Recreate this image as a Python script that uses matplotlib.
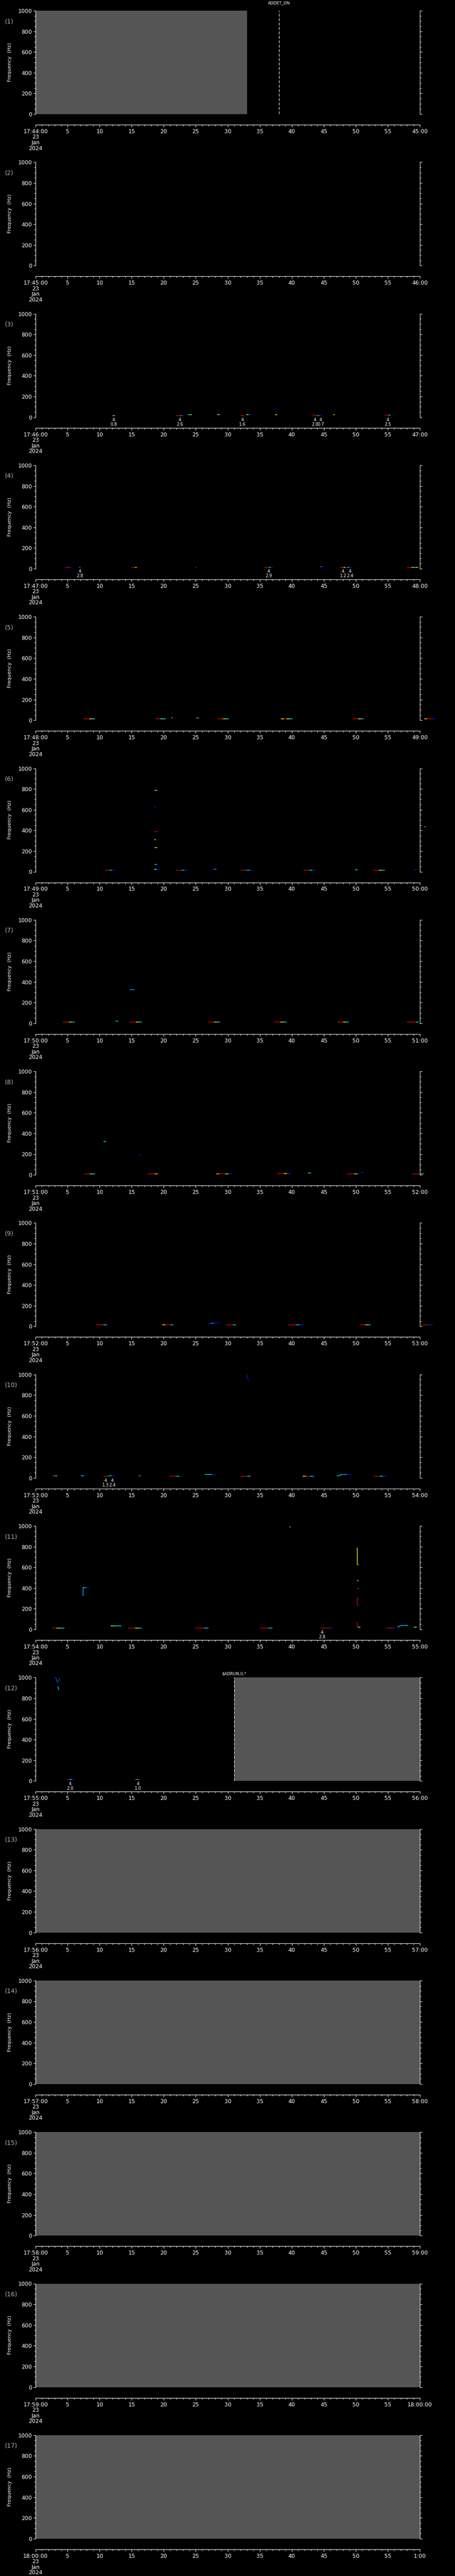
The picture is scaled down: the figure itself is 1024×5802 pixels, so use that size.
import numpy as np
import matplotlib
matplotlib.use('Agg')
import matplotlib.pyplot as plt
from matplotlib.collections import LineCollection

W, H = 1024, 5802
PITCH = 341.3

start_labels = ['17:44:00', '17:45:00', '17:46:00', '17:47:00', '17:48:00', '17:49:00',
                '17:50:00', '17:51:00', '17:52:00', '17:53:00', '17:54:00', '17:55:00',
                '17:56:00', '17:57:00', '17:58:00', '17:59:00', '18:00:00']
end_labels = ['45:00', '46:00', '47:00', '48:00', '49:00', '50:00', '51:00', '52:00',
              '53:00', '54:00', '55:00', '56:00', '57:00', '58:00', '59:00', '18:00:00', '1:00']
date_lines = ['23', 'Jan', '2024']

# grey (no data) spans per panel, in seconds
gray_spans = {1: (0, 33), 12: (31, 60), 13: (0, 60), 14: (0, 60), 15: (0, 60),
              16: (0, 60), 17: (0, 60)}
# event markers: panel -> (seconds, label)
event_marks = {1: (38, 'ADDET_ON'), 12: (31, '$ADRUN,0,*')}

# horizontal traces: (t start, t end, freq Hz, colour values along the trace)
segments = {
    3: [(11.9, 12.5, 16, [0.15, 0.65, 0.65, 0.15]), (21.9, 23.1, 16, [0.92, 0.92, 0.92, 0.3, 0.1]),
        (23.8, 24.4, 24, [0.35, 0.5]), (28.4, 28.6, 63, [0.15]), (28.4, 29.0, 24, [0.65, 0.15]),
        (32.0, 32.6, 16, [0.92]), (32.9, 33.6, 22, [0.65, 0.3, 0.15]), (37.4, 37.7, 24, [0.65]),
        (43.2, 43.9, 18, [0.92, 0.92]), (43.9, 44.7, 16, [0.3, 0.15]), (46.5, 46.8, 24, [0.65, 0.15]),
        (54.5, 55.4, 18, [0.92, 0.92, 0.3])],
    4: [(4.6, 5.6, 12, [0.92, 0.92, 0.15]), (6.7, 7.0, 11, [0.15, 0.3]), (15.0, 15.8, 14, [0.92, 0.92, 0.65]),
        (25.0, 25.2, 11, [0.92]), (35.7, 37.1, 14, [0.92, 0.92, 0.3, 0.1]), (44.3, 44.9, 20, [0.15, 0.35, 0.1]),
        (47.5, 49.3, 11, [0.92, 0.92, 0.65, 0.1, 0.35, 0.15]), (58.0, 59.7, 11, [0.92, 0.92, 0.65, 0.35, 0.65])],
    5: [(7.5, 9.3, 13, [0.92, 0.92, 0.65, 0.35]), (18.7, 20.3, 13, [0.92, 0.92, 0.5, 0.35]),
        (21.2, 21.5, 24, [0.65, 0.15]), (24.9, 25.5, 24, [0.92, 0.35]), (28.4, 30.2, 13, [0.92, 0.92, 0.65, 0.35]),
        (38.3, 40.1, 13, [0.65, 0.92, 0.65, 0.35]), (49.5, 51.2, 13, [0.92, 0.92, 0.65, 0.35]),
        (60.7, 62.4, 13, [0.65, 0.92, 0.92, 0.15])],
    6: [(10.9, 12.3, 13, [0.92, 0.92, 0.35, 0.15]), (18.5, 19.0, 789, [0.35, 0.65]), (18.5, 18.9, 630, [0.15, 0.1]),
        (18.5, 19.0, 389, [0.92]), (18.5, 18.9, 312, [0.65, 0.92]), (18.6, 19.0, 232, [0.65]),
        (18.6, 19.0, 69, [0.35]), (18.5, 19.5, 22, [0.65, 0.15, 0.1]), (21.9, 23.7, 13, [0.92, 0.92, 0.35, 0.15]),
        (27.5, 28.2, 22, [0.15, 0.3]), (32.0, 33.9, 13, [0.92, 0.92, 0.35, 0.15]),
        (41.8, 43.7, 13, [0.92, 0.92, 0.35, 0.15]), (49.9, 50.3, 20, [0.35]),
        (52.7, 54.5, 13, [0.92, 0.92, 0.65, 0.35]), (59.1, 59.5, 20, [0.15]), (60.7, 60.9, 434, [0.35])],
    7: [(4.3, 6.1, 13, [0.92, 0.92, 0.65, 0.35]), (12.5, 12.9, 19, [0.35]), (14.7, 15.5, 325, [0.3]),
        (14.7, 16.6, 13, [0.92, 0.92, 0.65, 0.35]), (26.9, 28.8, 13, [0.92, 0.92, 0.65, 0.35]),
        (37.3, 39.2, 13, [0.92, 0.92, 0.65, 0.35]), (47.1, 48.9, 13, [0.92, 0.92, 0.65, 0.35]),
        (58.0, 59.8, 13, [0.92, 0.92, 0.92, 0.35])],
    8: [(7.6, 9.3, 11, [0.92, 0.92, 0.65, 0.35]), (10.6, 11.0, 323, [0.35]), (16.2, 16.5, 188, [0.15]),
        (17.5, 19.1, 11, [0.92, 0.92, 0.65]), (28.2, 30.6, 11, [0.65, 0.92, 0.92, 0.65, 0.15]),
        (37.7, 39.8, 13, [0.92, 0.92, 0.65, 0.15]), (42.5, 43.0, 19, [0.35]),
        (48.6, 50.3, 11, [0.92, 0.92, 0.65]), (50.8, 51.2, 20, [0.15]), (58.8, 60.6, 11, [0.92, 0.92, 0.35])],
    9: [(9.4, 11.2, 13, [0.92, 0.92, 0.35]), (19.8, 21.5, 13, [0.65, 0.92, 0.92, 0.35]),
        (29.7, 31.3, 13, [0.92, 0.92, 0.35]), (39.5, 41.8, 13, [0.92, 0.92, 0.35, 0.15]),
        (50.6, 52.3, 15, [0.92, 0.92, 0.65, 0.35]), (60.4, 62.0, 15, [0.92, 0.92, 0.15])],
    10: [(2.6, 3.4, 22, [0.92, 0.35]), (7.1, 7.9, 22, [0.35, 0.15]), (10.6, 11.3, 15, [0.92]),
         (11.4, 12.3, 19, [0.35, 0.15]), (16.0, 16.4, 22, [0.92, 0.65]), (20.9, 22.5, 15, [0.92, 0.92, 0.35]),
         (26.4, 28.1, 35, [0.35, 0.35, 0.15]), (32.0, 33.6, 15, [0.92, 0.92, 0.35]),
         (41.7, 43.4, 15, [0.65, 0.92, 0.35]), (52.8, 54.7, 15, [0.92, 0.92, 0.35, 0.15])],
    11: [(2.6, 4.5, 13, [0.92, 0.65, 0.35]), (7.4, 8.4, 402, [0.35, 0.15]), (11.7, 13.4, 36, [0.65, 0.35, 0.35]),
         (14.5, 16.6, 13, [0.92, 0.92, 0.65, 0.35]), (24.9, 27.0, 14, [0.92, 0.92, 0.35]),
         (35.0, 35.3, 46, [0.1]), (35.0, 37.0, 14, [0.92, 0.92, 0.35]), (39.6, 39.8, 993, [0.35]),
         (44.5, 46.5, 13, [0.92, 0.92, 0.15]), (50.2, 50.45, 627, [0.6, 0.65]), (50.2, 50.45, 470, [0.6, 0.65]),
         (50.2, 50.45, 395, [0.92, 0.65]), (50.25, 50.6, 232, [0.15]), (50.3, 50.7, 20, [0.35, 0.65]),
         (54.8, 56.2, 13, [0.92, 0.92, 0.15]), (57.0, 58.1, 38, [0.35, 0.3, 0.35]), (59.0, 59.5, 23, [0.5])],
    12: [(4.9, 6.0, 13, [0.92, 0.35, 0.15]), (15.5, 16.3, 13, [0.92, 0.35, 0.92])],
}

# other traces: (times, freqs, colour values per piece)
tracks = {
    3: [([37.4, 37.6], [75, 85], [0.1])],
    5: [([21.3, 21.4], [70, 58], [0.1])],
    9: [([27.0, 27.4, 27.8, 28.2, 28.7], [27, 27, 33, 35, 33], [0.15, 0.3, 0.15, 0.15])],
    10: [([33.0, 33.1, 33.3], [1000, 960, 948], [0.15, 0.15]),
         ([47.0, 47.4, 47.8, 48.6, 49.3], [20, 20, 35, 35, 30], [0.35, 0.35, 0.3, 0.15])],
    11: [([7.4, 7.4], [321, 406], [0.3]), ([50.2, 50.2], [790, 630], [0.6]),
         ([50.2, 50.2], [315, 235], [0.92]), ([50.2, 50.2], [73, 20], [0.92]),
         ([56.5, 57.0], [22, 36], [0.35])],
    12: [([2.9, 3.2, 3.35, 3.5, 3.8], [997, 997, 960, 960, 992], [0.15, 0.2, 0.25, 0.2]),
         ([3.5, 3.6, 3.7], [915, 885, 882], [0.35, 0.35])],
}

# labels under traces: (seconds, top line, bottom line)
notes = {
    3: [(12.2, '4', '0.8'), (22.5, '4', '2.6'), (32.3, '4', '1.6'), (43.6, '4', '2.0'),
        (44.5, '4', '0.7'), (55.0, '4', '2.5')],
    4: [(6.9, '4', '2.8'), (36.4, '4', '2.9'), (48.0, '4', '1.2'), (49.1, '4', '2.4')],
    10: [(10.9, '4', '1.3'), (12.0, '4', '2.4')],
    11: [(44.7, '4', '2.8')],
    12: [(5.4, '4', '2.0'), (16.0, '4', '1.0')],
}

PX = 72 / 100  # points per pixel
cmap = plt.cm.jet

fig = plt.figure(figsize=(W / 100, H / 100), dpi=100, facecolor='black')

for k in range(17):
    p = k + 1
    top = 24 + k * PITCH
    ax = fig.add_axes([80 / W, 1 - (top + 233) / H, 865 / W, 233 / H])
    ax.set_facecolor('black')
    ax.set_xlim(0, 60)
    ax.set_ylim(0, 1000)

    ax.spines['top'].set_visible(False)
    for s in ['left', 'right', 'bottom']:
        ax.spines[s].set_color('white')
        ax.spines[s].set_linewidth(0.8)
    ax.spines['bottom'].set_position(('outward', 24 * PX))

    ax.set_xticks(np.arange(0, 61, 5))
    ax.set_xticks(np.arange(0, 61, 1), minor=True)
    xlabels = [start_labels[k] + '\n' + '\n'.join(date_lines)] + \
              [str(v) for v in range(5, 60, 5)] + [end_labels[k]]
    ax.set_xticklabels(xlabels, linespacing=0.95)
    ax.set_yticks(np.arange(0, 1001, 200))
    ax.set_yticks(np.arange(0, 1001, 50), minor=True)

    ax.tick_params(which='both', colors='white', direction='out', width=0.75, labelsize=8.9)
    ax.tick_params(which='major', length=5 * PX)
    ax.tick_params(which='minor', length=3 * PX)
    ax.tick_params(axis='y', which='both', left=True, right=True, labelright=False, pad=3 * PX)
    ax.tick_params(axis='x', pad=4 * PX)

    fig.text(11 / W, 1 - (top + 24) / H, '(%d)' % p, color='#b0b0b0', fontsize=10,
             ha='left', va='center')
    fig.text(22 / W, 1 - (top + 116) / H, 'Frequency  (Hz)', color='white', fontsize=8,
             rotation=90, ha='center', va='center')

    if p in gray_spans:
        a, b = gray_spans[p]
        ax.axvspan(a, b, color='#555555', lw=0, zorder=0)

    if p in event_marks:
        t, lab = event_marks[p]
        ax.axvline(t, color='white', lw=0.8, dashes=(6, 3), zorder=3)
        off = 17 if p == 1 else 8
        ax.annotate(lab, xy=(t, 1), xycoords=('data', 'axes fraction'),
                    xytext=(0, off * PX), textcoords='offset points',
                    ha='center', va='center', color='white', fontsize=6.6)

    for t0, t1, f, vals in segments.get(p, []):
        ts = np.linspace(t0, t1, len(vals) + 1)
        pieces = [[(ts[i], f), (ts[i + 1], f)] for i in range(len(vals))]
        ax.add_collection(LineCollection(pieces, colors=cmap(vals), linewidths=1.1,
                                         clip_on=False, zorder=4))

    for ts, fs, vals in tracks.get(p, []):
        pieces = [[(ts[i], fs[i]), (ts[i + 1], fs[i + 1])] for i in range(len(vals))]
        ax.add_collection(LineCollection(pieces, colors=cmap(vals), linewidths=1.1,
                                         clip_on=False, zorder=4))

    for t, a, b in notes.get(p, []):
        ax.annotate(a + '\n' + b, xy=(t, 0), xycoords=('data', 'axes fraction'),
                    xytext=(0, -1.5 * PX), textcoords='offset points',
                    ha='center', va='top', color='white', fontsize=6.9, linespacing=1.0)

fig.savefig('out.png', dpi=100, facecolor='black')
